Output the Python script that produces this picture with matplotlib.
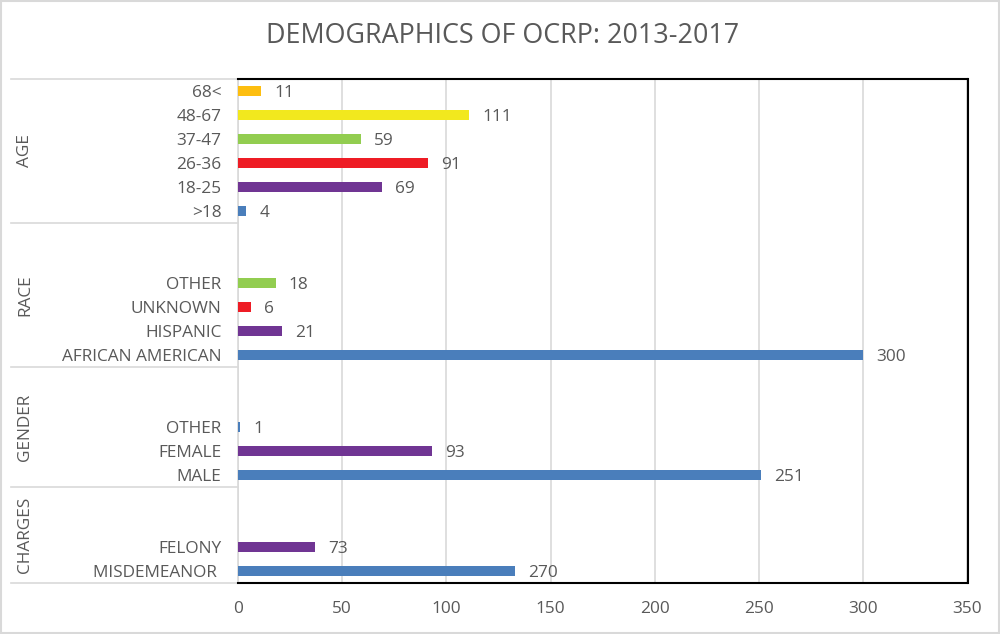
import matplotlib
matplotlib.use("Agg")
import matplotlib.pyplot as plt
from matplotlib.lines import Line2D
from matplotlib.patches import Rectangle

plt.rcParams['font.family'] = ['Open Sans', 'DejaVu Sans']

# ---- data ----
groups = ["AGE", "RACE", "GENDER", "CHARGES"]
age_labels = ["68<", "48-67", "37-47", "26-36", "18-25", ">18"]
age_values = [11, 111, 59, 91, 69, 4]
race_labels = ["OTHER", "UNKNOWN", "HISPANIC", "AFRICAN AMERICAN"]
race_values = [18, 6, 21, 300]
gender_labels = ["OTHER", "FEMALE", "MALE"]
gender_values = [1, 93, 251]
charges_labels = ["FELONY", "MISDEMEANOR "]
charges_values = [37, 133]            # bar lengths as drawn
charges_text = ["73", "270"]          # data labels as printed

BLUE, PURPLE, RED, GREEN, YELLOW, ORANGE = "#4A7EBB", "#703593", "#EE1C25", "#92CD50", "#F2E81E", "#FDBE10"
age_colors = [ORANGE, YELLOW, GREEN, RED, PURPLE, BLUE]
race_colors = [GREEN, RED, PURPLE, BLUE]
gender_colors = [BLUE, PURPLE, BLUE]
charges_colors = [PURPLE, BLUE]

group_slots = [6, 6, 5, 4]   # rows reserved per group (layout)

items = [
    (age_labels, age_values, [str(v) for v in age_values], age_colors),
    (race_labels, race_values, [str(v) for v in race_values], race_colors),
    (gender_labels, gender_values, [str(v) for v in gender_values], gender_colors),
    (charges_labels, charges_values, charges_text, charges_colors),
]

TXT = "#595959"
GRID = "#D9D9D9"
FS = 12.4

fig = plt.figure(figsize=(10, 6.34), dpi=100)
W, H = 1000, 634
x0, x1, ytop, ybot = 238, 967.5, 79, 583
ax = fig.add_axes([x0 / W, 1 - ybot / H, (x1 - x0) / W, (ybot - ytop) / H])

ypos, ylabs = [], []
start = 0
bounds = [-0.5]
for (labs, vals, texts, cols), nslot in zip(items, group_slots):
    n = len(labs)
    offset = start + nslot - n
    ys = [offset + i for i in range(n)]
    ax.barh(ys, vals, height=0.4, color=cols, zorder=3)
    for y, v, t in zip(ys, vals, texts):
        ax.text(v + 6.3, y, t, va="center_baseline", ha="left", fontsize=FS, color=TXT)
    ypos += ys
    ylabs += labs
    start += nslot
    bounds.append(start - 0.5)

total = sum(group_slots)
ax.set_ylim(total - 0.5, -0.5)
ax.set_xlim(0, 350)
ax.set_xticks(range(0, 351, 50))
ax.set_yticks(ypos)
ax.set_yticklabels(ylabs)
for lab in ax.get_yticklabels():
    lab.set_va("center_baseline")
ax.tick_params(axis="y", length=0, pad=12, labelsize=FS, labelcolor=TXT)
ax.tick_params(axis="x", length=0, pad=13, labelsize=FS, labelcolor=TXT)
ax.grid(axis="x", color=GRID, linewidth=1.2, zorder=0)
ax.set_axisbelow(True)
for s in ["top", "right", "bottom"]:
    ax.spines[s].set_color("black")
    ax.spines[s].set_linewidth(1.5)
ax.spines["left"].set_color(GRID)
ax.spines["left"].set_linewidth(1.2)

# group separators and labels
tr = ax.get_yaxis_transform()
xl = (11 - x0) / (x1 - x0)
for b in bounds:
    ax.add_line(Line2D([xl, 0], [b, b], transform=tr, color=GRID, linewidth=1.2, clip_on=False))
xg = (25 - x0) / (x1 - x0)
for g, a, b in zip(groups, bounds[:-1], bounds[1:]):
    ax.text(xg, (a + b) / 2, g, transform=tr, rotation=90, ha="center", va="center",
            fontsize=FS, color=TXT)

fig.text(0.503, 1 - 36 / H, "DEMOGRAPHICS OF OCRP: 2013-2017", ha="center", va="center",
         fontsize=19.4, color=TXT)

fig.patches.append(Rectangle((0.0008, 0.0012), 0.9984, 0.9976, transform=fig.transFigure,
                             fill=False, edgecolor=GRID, linewidth=1.5))

fig.savefig("out.png", dpi=100, facecolor="white")
